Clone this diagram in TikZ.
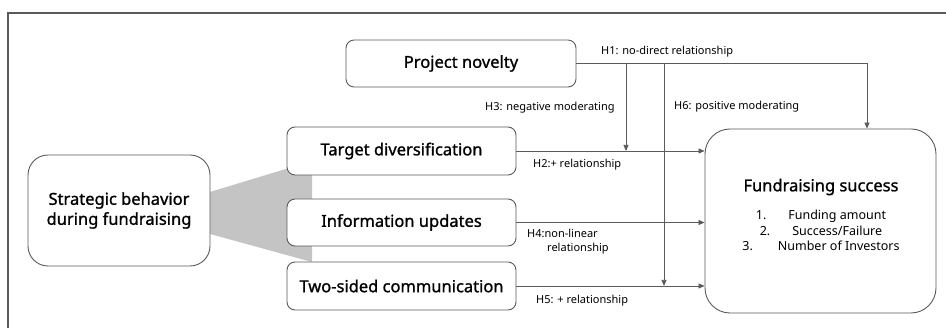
\documentclass[tikz,border=0pt]{standalone}
\usepackage{fontspec}
\setmainfont{Noto Sans}
\newfontfamily\boxfont[FakeBold=1.1]{Noto Sans}
\usetikzlibrary{arrows.meta,calc}
\definecolor{linegray}{HTML}{5A5A5A}
\definecolor{wedge}{HTML}{C4C4C4}
\begin{document}
\begin{tikzpicture}[x=1pt,y=-1pt,
  box/.style={draw=linegray,line width=0.9pt,fill=white,rounded corners=8pt,
    inner sep=0pt,align=center,font=\boxfont\fontsize{16.5}{20}\selectfont},
  arr/.style={draw=linegray,line width=0.7pt,-{Triangle[length=6pt,width=5pt]}},
  lbl/.style={anchor=west,inner sep=0pt,font=\fontsize{11}{14}\selectfont,align=left}]
\useasboundingbox (0,0) rectangle (946,328);
% outer frame
\draw[linegray,line width=1.6pt] (8,330) -- (8,13) -- (948,13);
% grey wedge linking the strategy box to its three behaviours
\fill[wedge] (210,192) -- (312,161) -- (312,262) -- (210,234) -- cycle;
% boxes
\node[box,minimum width=230pt,minimum height=47pt] (nov) at (461,63.5) {Project novelty};
\node[box,minimum width=229pt,minimum height=48pt] (tgt) at (401.5,151) {Target diversification};
\node[box,minimum width=229pt,minimum height=47pt] (info) at (401.5,222.5) {Information updates};
\node[box,minimum width=229pt,minimum height=48pt] (two) at (401.5,286) {Two-sided communication};
\node[box,rounded corners=20pt,minimum width=182pt,minimum height=111pt] (strat) at (119,210.5)
  {Strategic behavior\\during fundraising};
\node[box,rounded corners=25pt,minimum width=231pt,minimum height=184pt] (succ) at (820.5,221) {};
\node[font=\boxfont\fontsize{16.5}{18}\selectfont,inner sep=0pt] (succt) at (821,187) {Fundraising success};
\node[font=\fontsize{12.5}{15.5}\selectfont,align=center,inner sep=0pt,anchor=north] (succl) at (821,210)
  {1.\hspace{22pt}Funding amount\\2.\hspace{22pt}Success/Failure\\3.\hspace{25pt}Number of Investors};
% moderation points
\coordinate (m3) at (626,63.5);
\coordinate (m6) at (664,63.5);
\coordinate (h1) at (867,63.5);
% connectors
\draw[arr] (nov.east) -- (h1) -- (h1 |- succ.north);
\draw[arr] (m3) -- (m3 |- tgt.east);
\draw[arr] (m6) -- (m6 |- two.east);
\draw[arr] (tgt.east) -- (tgt.east -| succ.west);
\draw[arr] (info.east) -- (info.east -| succ.west);
\draw[arr] (two.east) -- (two.east -| succ.west);
% hypothesis labels
\node[lbl] (l1) at (601,52) {H1: no-direct relationship};
\node[lbl] (l3) at (485,108) {H3: negative moderating};
\node[lbl] (l6) at (674,107) {H6: positive moderating};
\node[lbl] (l2) at (533,165) {H2:+ relationship};
\node[lbl,anchor=north west] (l4) at (527,229) {H4:non-linear\\\hspace*{20pt}relationship};
\node[lbl] (l5) at (536,301) {H5: + relationship};
\end{tikzpicture}
\end{document}
